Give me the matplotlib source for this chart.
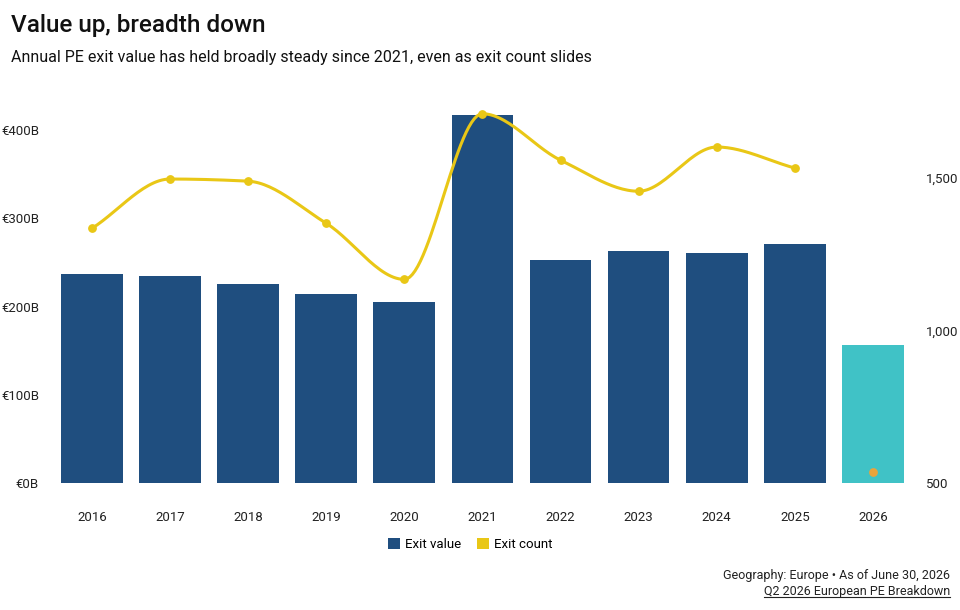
import numpy as np
import matplotlib.pyplot as plt
from matplotlib.patches import Patch
from matplotlib.lines import Line2D

years = ['2016', '2017', '2018', '2019', '2020', '2021', '2022', '2023', '2024', '2025', '2026']
exit_value = [237, 235, 226, 214, 205, 417, 253, 263, 261, 271, 156]   # EUR B
exit_count = [1335, 1497, 1490, 1352, 1168, 1711, 1559, 1457, 1602, 1533, 536]
partial_year = '2026'

left_ticks = [0, 100, 200, 300, 400]
left_labels = ['€0B', '€100B', '€200B', '€300B', '€400B']
right_ticks = [500, 1000, 1500]
right_labels = ['500', '1,000', '1,500']

c_bar = '#1f4e7f'
c_partial = '#40c2c6'
c_line = '#e9c716'
c_dot = '#eaa43c'

plt.rcParams['font.family'] = ['Roboto', 'DejaVu Sans']
tick_font = dict(family=['Roboto', 'DejaVu Sans'], fontsize=9.5, color='#222222')


def monotone_curve(xs, ys, n=30):
    # d3-style monotone cubic, only for drawing the smooth path
    xs = np.asarray(xs, float)
    ys = np.asarray(ys, float)
    h = np.diff(xs)
    d = np.diff(ys) / h
    m = np.zeros(len(xs))
    m[0], m[-1] = d[0], d[-1]
    for i in range(1, len(xs) - 1):
        if d[i - 1] * d[i] <= 0:
            m[i] = 0
        else:
            w1 = 2 * h[i] + h[i - 1]
            w2 = h[i] + 2 * h[i - 1]
            m[i] = (w1 + w2) / (w1 / d[i - 1] + w2 / d[i])
    px, py = [], []
    for i in range(len(xs) - 1):
        t = np.linspace(0, 1, n)
        h00 = 2 * t**3 - 3 * t**2 + 1
        h10 = t**3 - 2 * t**2 + t
        h01 = -2 * t**3 + 3 * t**2
        h11 = t**3 - t**2
        px.extend(xs[i] + t * h[i])
        py.extend(h00 * ys[i] + h10 * h[i] * m[i] + h01 * ys[i + 1] + h11 * h[i] * m[i + 1])
    return np.array(px), np.array(py)


fig = plt.figure(figsize=(9.6, 6.1), dpi=100)
ax = fig.add_axes([0.055, 0.208, 0.895, 0.615])
ax2 = ax.twinx()

x = np.arange(len(years))
colors = [c_partial if y == partial_year else c_bar for y in years]
ax.bar(x, exit_value, width=0.79, color=colors, zorder=2)

full = [i for i, y in enumerate(years) if y != partial_year]
part = [i for i, y in enumerate(years) if y == partial_year]
cx, cy = monotone_curve(x[full], np.array(exit_count)[full])
ax2.plot(cx, cy, color=c_line, lw=2.2, zorder=3)
ax2.scatter(x[full], np.array(exit_count)[full], s=28, color=c_line, zorder=4)
ax2.scatter(x[part], np.array(exit_count)[part], s=28, color=c_dot, zorder=4)

ax.set_xlim(-0.5, len(years) - 0.5)
ax.set_ylim(0, 425)
ax2.set_ylim(500, 1730)

ax.set_xticks(x)
ax.set_xticklabels(years, **tick_font)
ax.set_yticks(left_ticks)
ax.set_yticklabels(left_labels, **tick_font)
ax2.set_yticks(right_ticks)
ax2.set_yticklabels(right_labels, **tick_font)
ax.tick_params(axis='x', length=0, pad=20)
ax.tick_params(axis='y', length=0, pad=10)
ax2.tick_params(axis='y', length=0, pad=10)

for a in (ax, ax2):
    for s in a.spines.values():
        s.set_visible(False)

fig.text(0.011, 0.958, 'Value up, breadth down', fontsize=17.5, fontweight='medium',
         color='#111111', va='center')
fig.text(0.011, 0.905, 'Annual PE exit value has held broadly steady since 2021, even as exit count slides',
         fontsize=11.5, color='#111111', va='center')

handles = [Patch(facecolor=c_bar, edgecolor='none'), Patch(facecolor=c_line, edgecolor='none')]
fig.legend(handles, ['Exit value', 'Exit count'], loc='center', bbox_to_anchor=(0.49, 0.108),
           ncol=2, frameon=False, fontsize=9.5, handlelength=0.9, handleheight=0.9,
           columnspacing=1.2, handletextpad=0.4)

fig.text(0.99, 0.057, 'Geography: Europe • As of June 30, 2026', fontsize=9,
         color='#222222', ha='right', va='center')
src = fig.text(0.99, 0.030, 'Q2 2026 European PE Breakdown', fontsize=9,
               color='#222222', ha='right', va='center')

# underline the source line
fig.canvas.draw()
bb = src.get_window_extent().transformed(fig.transFigure.inverted())
fig.add_artist(Line2D([bb.x0, bb.x1], [bb.y0 + 0.002, bb.y0 + 0.002],
                      transform=fig.transFigure, color='#222222', lw=0.8))

fig.savefig('out.png', dpi=100)
